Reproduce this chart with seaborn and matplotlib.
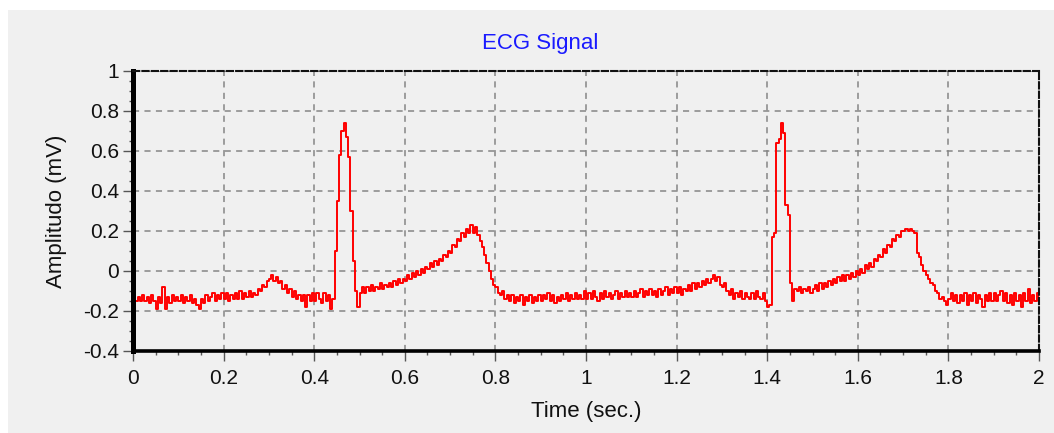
import numpy as np
import pandas as pd
import matplotlib
matplotlib.use("Agg")
import matplotlib.pyplot as plt
from matplotlib.patches import Rectangle
from matplotlib.ticker import MultipleLocator
import seaborn as sns

# ---- data ----
SAMPLE_RATE = 200  # samples per second
amplitude = [
    -0.11, -0.15, -0.13, -0.15, -0.12, -0.15, -0.13, -0.16, -0.12, -0.15, -0.19, -0.13, -0.16, -0.08, -0.19, -0.13, -0.16, -0.12, -0.15, -0.13,
    -0.15, -0.12, -0.16, -0.13, -0.15, -0.12, -0.16, -0.14, -0.17, -0.19, -0.14, -0.16, -0.12, -0.15, -0.13, -0.11, -0.15, -0.12, -0.14, -0.11,
    -0.14, -0.11, -0.15, -0.12, -0.14, -0.11, -0.14, -0.10, -0.14, -0.11, -0.13, -0.10, -0.13, -0.11, -0.12, -0.09, -0.10, -0.07, -0.08, -0.05,
    -0.04, -0.02, -0.05, -0.03, -0.06, -0.05, -0.09, -0.07, -0.11, -0.09, -0.13, -0.10, -0.14, -0.12, -0.15, -0.12, -0.18, -0.12, -0.15, -0.11,
    -0.15, -0.11, -0.14, -0.16, -0.11, -0.15, -0.12, -0.19, -0.14, 0.10, 0.35, 0.58, 0.70, 0.74, 0.67, 0.57, 0.30, 0.05, -0.10, -0.18,
    -0.11, -0.08, -0.11, -0.08, -0.10, -0.07, -0.10, -0.08, -0.09, -0.06, -0.09, -0.07, -0.08, -0.06, -0.08, -0.05, -0.07, -0.04, -0.06, -0.04,
    -0.05, -0.02, -0.04, -0.01, -0.03, 0.00, -0.02, 0.01, -0.01, 0.02, 0.01, 0.04, 0.02, 0.05, 0.03, 0.06, 0.05, 0.08, 0.07, 0.10,
    0.09, 0.13, 0.12, 0.16, 0.15, 0.19, 0.17, 0.21, 0.19, 0.23, 0.19, 0.22, 0.18, 0.15, 0.12, 0.08, 0.04, 0.00, -0.04, -0.07,
    -0.08, -0.11, -0.12, -0.10, -0.14, -0.12, -0.15, -0.12, -0.16, -0.13, -0.15, -0.12, -0.17, -0.13, -0.15, -0.12, -0.16, -0.13, -0.15, -0.12,
    -0.15, -0.12, -0.14, -0.11, -0.15, -0.12, -0.16, -0.13, -0.15, -0.12, -0.14, -0.11, -0.15, -0.12, -0.14, -0.11, -0.14, -0.12, -0.14, -0.10,
    -0.14, -0.11, -0.14, -0.10, -0.13, -0.15, -0.11, -0.14, -0.10, -0.13, -0.11, -0.14, -0.12, -0.10, -0.14, -0.11, -0.13, -0.10, -0.13, -0.11,
    -0.13, -0.10, -0.13, -0.11, -0.09, -0.13, -0.10, -0.12, -0.09, -0.12, -0.10, -0.13, -0.09, -0.12, -0.10, -0.08, -0.12, -0.09, -0.11, -0.08,
    -0.11, -0.08, -0.12, -0.09, -0.10, -0.07, -0.10, -0.06, -0.09, -0.06, -0.08, -0.05, -0.07, -0.04, -0.06, -0.04, -0.02, -0.05, -0.03, -0.07,
    -0.08, -0.06, -0.10, -0.12, -0.09, -0.14, -0.11, -0.13, -0.10, -0.14, -0.11, -0.13, -0.14, -0.11, -0.14, -0.10, -0.13, -0.14, -0.11, -0.15,
    -0.18, -0.17, 0.17, 0.19, 0.64, 0.66, 0.74, 0.69, 0.33, 0.28, -0.06, -0.15, -0.09, -0.10, -0.08, -0.11, -0.09, -0.10, -0.08, -0.11,
    -0.09, -0.07, -0.10, -0.06, -0.09, -0.06, -0.08, -0.05, -0.07, -0.04, -0.06, -0.03, -0.05, -0.02, -0.05, -0.02, -0.04, -0.01, -0.03, 0.00,
    -0.02, 0.01, -0.01, 0.03, 0.01, 0.04, 0.02, 0.06, 0.05, 0.08, 0.07, 0.11, 0.09, 0.13, 0.12, 0.16, 0.15, 0.18, 0.17, 0.20,
    0.20, 0.21, 0.20, 0.21, 0.20, 0.19, 0.09, 0.07, 0.03, 0.00, -0.02, -0.04, -0.06, -0.07, -0.10, -0.11, -0.14, -0.13, -0.15, -0.17,
    -0.14, -0.11, -0.15, -0.12, -0.16, -0.12, -0.15, -0.11, -0.17, -0.12, -0.15, -0.11, -0.16, -0.12, -0.14, -0.18, -0.12, -0.15, -0.11, -0.15,
    -0.11, -0.15, -0.12, -0.10, -0.15, -0.11, -0.16, -0.12, -0.17, -0.11, -0.15, -0.12, -0.18, -0.11, -0.15, -0.09, -0.16, -0.12, -0.15, -0.11,
    -0.14,
]
x_ticks = [0, 0.2, 0.4, 0.6, 0.8, 1.0, 1.2, 1.4, 1.6, 1.8, 2.0]
x_tick_labels = ["0", "0.2", "0.4", "0.6", "0.8", "1", "1.2", "1.4", "1.6", "1.8", "2"]
y_ticks = [-0.4, -0.2, 0, 0.2, 0.4, 0.6, 0.8, 1.0]
y_tick_labels = ["-0.4", "-0.2", "0", "0.2", "0.4", "0.6", "0.8", "1"]
title_text = "ECG Signal"
x_label = "Time (sec.)"
y_label = "Amplitudo (mV)"

df = pd.DataFrame({
    "time": np.arange(len(amplitude)) / SAMPLE_RATE,
    "amplitude": amplitude,
})

# ---- style ----
sns.set_theme(style="ticks")
plt.rcParams["font.family"] = ["Liberation Sans", "DejaVu Sans"]

W, H = 1054, 433
fig = plt.figure(figsize=(W / 100, H / 100), dpi=100, facecolor="white")
fig.patches.append(Rectangle((8 / W, 0), 1 - 8 / W, 1 - 10 / H,
                             transform=fig.transFigure, facecolor="#f0f0f0",
                             edgecolor="none", zorder=-10))

left, right, top, bottom = 133, 1039, 71, 351
ax = fig.add_axes([left / W, 1 - bottom / H, (right - left) / W, (bottom - top) / H])
ax.set_facecolor("#f0f0f0")

sns.lineplot(data=df, x="time", y="amplitude", ax=ax, color="#ff0000",
             linewidth=1.4, drawstyle="steps-post", estimator=None, legend=False)

ax.set_xlim(0, 2)
ax.set_ylim(-0.4, 1)
ax.set_xticks(x_ticks)
ax.set_xticklabels(x_tick_labels)
ax.set_yticks(y_ticks)
ax.set_yticklabels(y_tick_labels)
ax.xaxis.set_minor_locator(MultipleLocator(0.05))
ax.yaxis.set_minor_locator(MultipleLocator(0.05))

ax.grid(True, which="major", color="#858585", linestyle=(0, (4, 3.5)), linewidth=1.1)
ax.set_axisbelow(True)

ax.tick_params(axis="both", which="major", direction="out", length=7, width=1.0,
               color="#555555", labelsize=15, labelcolor="#111111")
ax.tick_params(axis="x", which="major", pad=6)
ax.tick_params(axis="y", which="major", pad=3)
ax.tick_params(axis="both", which="minor", direction="out", length=3, width=1.0,
               color="#555555")

for side in ["top", "right"]:
    ax.spines[side].set_visible(True)
    ax.spines[side].set_color("#111111")
    ax.spines[side].set_linewidth(1.5)
    ax.spines[side].set_linestyle((0, (3, 1.5)))
ax.spines["left"].set_color("black")
ax.spines["left"].set_linewidth(3.6)
ax.spines["bottom"].set_color("black")
ax.spines["bottom"].set_linewidth(2.6)

ax.set_xlabel(x_label, fontsize=16, color="#111111")
ax.set_ylabel(y_label, fontsize=16, color="#111111")
ax.xaxis.set_label_coords(0.5, -(411 - bottom) / (bottom - top))
ax.xaxis.label.set_va("center")
ax.yaxis.set_label_coords(-(left - 67) / (right - left), 0.5)

fig.text(540 / W, 1 - 43 / H, title_text, color="#1a1aff", fontsize=16,
         ha="center", va="center")

fig.savefig("out.png", dpi=100, facecolor=fig.get_facecolor())
